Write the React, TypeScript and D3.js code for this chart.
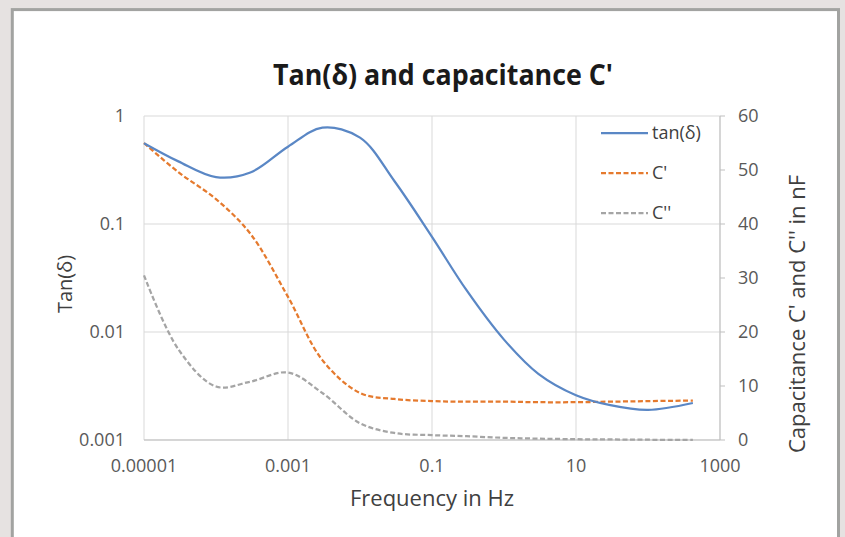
import React from 'react';
import * as d3 from 'd3';

const frequencies = [0.00001, 0.00003, 0.0001, 0.0003, 0.001, 0.003, 0.01, 0.03, 0.1, 0.3, 1, 3, 10, 30, 100, 420];
const tanDelta = [0.56, 0.38, 0.272, 0.3, 0.52, 0.78, 0.63, 0.25, 0.076, 0.0245, 0.0085, 0.0041, 0.0026, 0.0021, 0.0019, 0.0022];
const cPrime = [55, 49.6, 44.6, 38.2, 26.5, 14.8, 8.7, 7.6, 7.2, 7.1, 7.1, 7.0, 7.0, 7.1, 7.2, 7.3];
const cDoublePrime = [30.5, 16.8, 9.9, 10.8, 12.5, 8.7, 3.1, 1.3, 0.9, 0.7, 0.4, 0.25, 0.15, 0.1, 0.05, 0.02];

const xTicks = [0.00001, 0.001, 0.1, 10, 1000];
const xTickLabels = ['0.00001', '0.001', '0.1', '10', '1000'];
const leftTicks = [1, 0.1, 0.01, 0.001];
const leftTickLabels = ['1', '0.1', '0.01', '0.001'];
const rightTicks = [0, 10, 20, 30, 40, 50, 60];

const seriesNames = ['tan(δ)', "C'", "C''"];

const W = 845;
const H = 537;
const FONT = "'Open Sans', sans-serif";

export default function App() {
  const x = d3.scaleLog().domain([0.00001, 1000]).range([144, 720]);
  const yL = d3.scaleLog().domain([0.001, 1]).range([440, 116]);
  const yR = d3.scaleLinear().domain([0, 60]).range([440, 116]);

  const lineL = d3
    .line<number>()
    .x((_, i) => x(frequencies[i]))
    .y((d) => yL(d))
    .curve(d3.curveCatmullRom.alpha(0.5));
  const lineR = d3
    .line<number>()
    .x((_, i) => x(frequencies[i]))
    .y((d) => yR(d))
    .curve(d3.curveCatmullRom.alpha(0.5));

  const blue = '#5a87c5';
  const orange = '#e57a2e';
  const gray = '#a5a5a5';
  const grid = '#d9d9d9';
  const txt = '#595959';

  const legend = [
    { name: seriesNames[0], color: blue, dash: undefined as string | undefined, y: 133 },
    { name: seriesNames[1], color: orange, dash: '5,2.5', y: 173 },
    { name: seriesNames[2], color: gray, dash: '5,2.5', y: 213 },
  ];

  return (
    <svg
      width={W}
      height={H}
      style={{ position: 'absolute', left: 0, top: 0, display: 'block' }}
      fontFamily={FONT}
    >
      <rect x={0} y={0} width={W} height={H} fill="#e6e2e1" />
      <rect x={12.3} y={9.6} width={826.2} height={600} fill="#ffffff" stroke="#a2a3a1" strokeWidth={3} />

      {/* title */}
      <text
        x={443}
        y={85}
        textAnchor="middle"
        fontSize={28}
        fontWeight="bold"
        fill="#1a1a1a"
        textLength={340}
        lengthAdjust="spacingAndGlyphs"
      >
        Tan(δ) and capacitance C'
      </text>

      {/* gridlines */}
      {xTicks.map((t) => (
        <line key={'vx' + t} x1={x(t)} x2={x(t)} y1={116} y2={440} stroke={grid} strokeWidth={1} />
      ))}
      {leftTicks.map((t) => (
        <line key={'hy' + t} x1={144} x2={720} y1={yL(t)} y2={yL(t)} stroke={grid} strokeWidth={1} />
      ))}

      {/* right axis */}
      <line x1={720} x2={720} y1={116} y2={440} stroke="#bfbfbf" strokeWidth={1} />
      {rightTicks.map((t) => (
        <line key={'rt' + t} x1={720} x2={725} y1={yR(t)} y2={yR(t)} stroke="#bfbfbf" strokeWidth={1} />
      ))}
      <line x1={144} x2={720} y1={440} y2={440} stroke="#bfbfbf" strokeWidth={1} />

      {/* tick labels */}
      {leftTicks.map((t, i) => (
        <text key={'lt' + t} x={125} y={yL(t) + 6.3} textAnchor="end" fontSize={18} fill={txt}>
          {leftTickLabels[i]}
        </text>
      ))}
      {rightTicks.map((t) => (
        <text key={'rl' + t} x={738} y={yR(t) + 6.3} textAnchor="start" fontSize={18} fill={txt}>
          {String(t)}
        </text>
      ))}
      {xTicks.map((t, i) => (
        <text key={'xl' + t} x={x(t)} y={471.5} textAnchor="middle" fontSize={18} fill={txt}>
          {xTickLabels[i]}
        </text>
      ))}

      {/* axis titles */}
      <text x={432} y={506} textAnchor="middle" fontSize={22} fill="#404040">
        Frequency in Hz
      </text>
      <text
        transform="translate(72,284) rotate(-90)"
        textAnchor="middle"
        fontSize={20}
        fill="#404040"
      >
        Tan(δ)
      </text>
      <text
        transform="translate(805,314) rotate(-90)"
        textAnchor="middle"
        fontSize={22}
        fill="#404040"
      >
        Capacitance C' and C'' in nF
      </text>

      {/* series */}
      <path d={lineR(cDoublePrime) || ''} fill="none" stroke={gray} strokeWidth={2.25} strokeDasharray="5,2.5" />
      <path d={lineR(cPrime) || ''} fill="none" stroke={orange} strokeWidth={2.25} strokeDasharray="5,2.5" />
      <path d={lineL(tanDelta) || ''} fill="none" stroke={blue} strokeWidth={2.25} />

      {/* legend */}
      {legend.map((l) => (
        <g key={l.name}>
          <line x1={601} x2={648} y1={l.y} y2={l.y} stroke={l.color} strokeWidth={2.25} strokeDasharray={l.dash} />
          <text x={652} y={l.y + 6.3} fontSize={18} fill="#404040">
            {l.name}
          </text>
        </g>
      ))}
    </svg>
  );
}
